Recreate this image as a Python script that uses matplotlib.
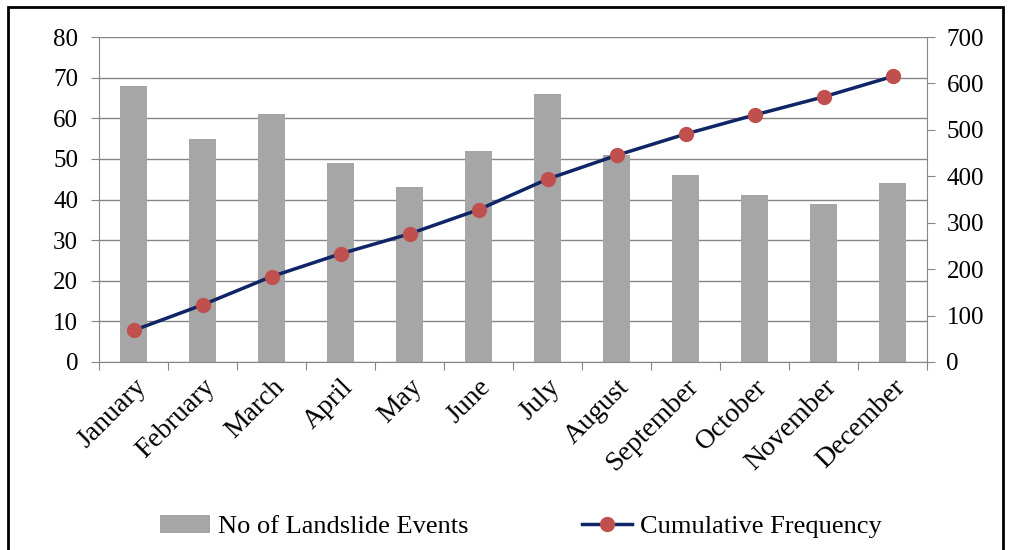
import matplotlib.pyplot as plt
import numpy as np
from matplotlib.patches import Rectangle

months = ['January', 'February', 'March', 'April', 'May', 'June', 'July',
          'August', 'September', 'October', 'November', 'December']
events = [68, 55, 61, 49, 43, 52, 66, 51, 46, 41, 39, 44]
cumulative = [68, 123, 184, 233, 276, 328, 394, 445, 491, 532, 571, 615]

plt.rcParams['font.family'] = ['Liberation Serif', 'DejaVu Serif']
plt.rcParams['font.size'] = 18

fig = plt.figure(figsize=(10.11, 5.5), dpi=100)
ax = fig.add_axes([99 / 1011, 1 - 362 / 550, (927 - 99) / 1011, (362 - 37) / 550])
x = np.arange(len(months))

bars = ax.bar(x, events, width=0.38, color='#a6a6a6', zorder=2,
              label='No of Landslide Events')
ax.set_xlim(-0.5, len(months) - 0.5)
ax.set_ylim(0, 80)
ax.set_yticks(range(0, 81, 10))
ax.yaxis.grid(True, color='#868686', linewidth=1)
ax.set_axisbelow(True)

# ticks sit between categories, labels at category centres
ax.set_xticks(np.arange(-0.5, len(months), 1))
ax.set_xticklabels([])
ax.set_xticks(x, minor=True)
ax.set_xticklabels(months, minor=True, rotation=45, ha='right',
                   rotation_mode='anchor', fontsize=20)
ax.tick_params(axis='x', which='minor', length=0, pad=9)
ax.tick_params(axis='x', which='major', length=6, color='#868686')
ax.tick_params(axis='y', length=6, color='#868686', pad=9)

for side in ['top', 'right']:
    ax.spines[side].set_visible(False)
for side in ['left', 'bottom']:
    ax.spines[side].set_color('#868686')

ax2 = ax.twinx()
line, = ax2.plot(x, cumulative, color='#0f2566', linewidth=2.5,
                 marker='o', markersize=10, markerfacecolor='#c0504d',
                 markeredgecolor='#c0504d', zorder=3,
                 label='Cumulative Frequency')
ax2.set_ylim(0, 700)
ax2.set_yticks(range(0, 701, 100))
ax2.tick_params(axis='y', length=6, color='#868686', pad=8)
for side in ['top', 'left', 'bottom']:
    ax2.spines[side].set_visible(False)
ax2.spines['right'].set_color('#868686')

fig.legend(handles=[bars, line], loc='lower center', ncol=2,
           bbox_to_anchor=(0.515, -0.022), frameon=False, columnspacing=4.3,
           handlelength=1.9, handletextpad=0.3, fontsize=19)

# outer frame
fig.patches.append(Rectangle((8 / 1011, -0.01), 995 / 1011, 1 - 7 / 550 + 0.01,
                             transform=fig.transFigure, fill=False,
                             edgecolor='black', linewidth=2))

fig.savefig('out.png', dpi=100)
